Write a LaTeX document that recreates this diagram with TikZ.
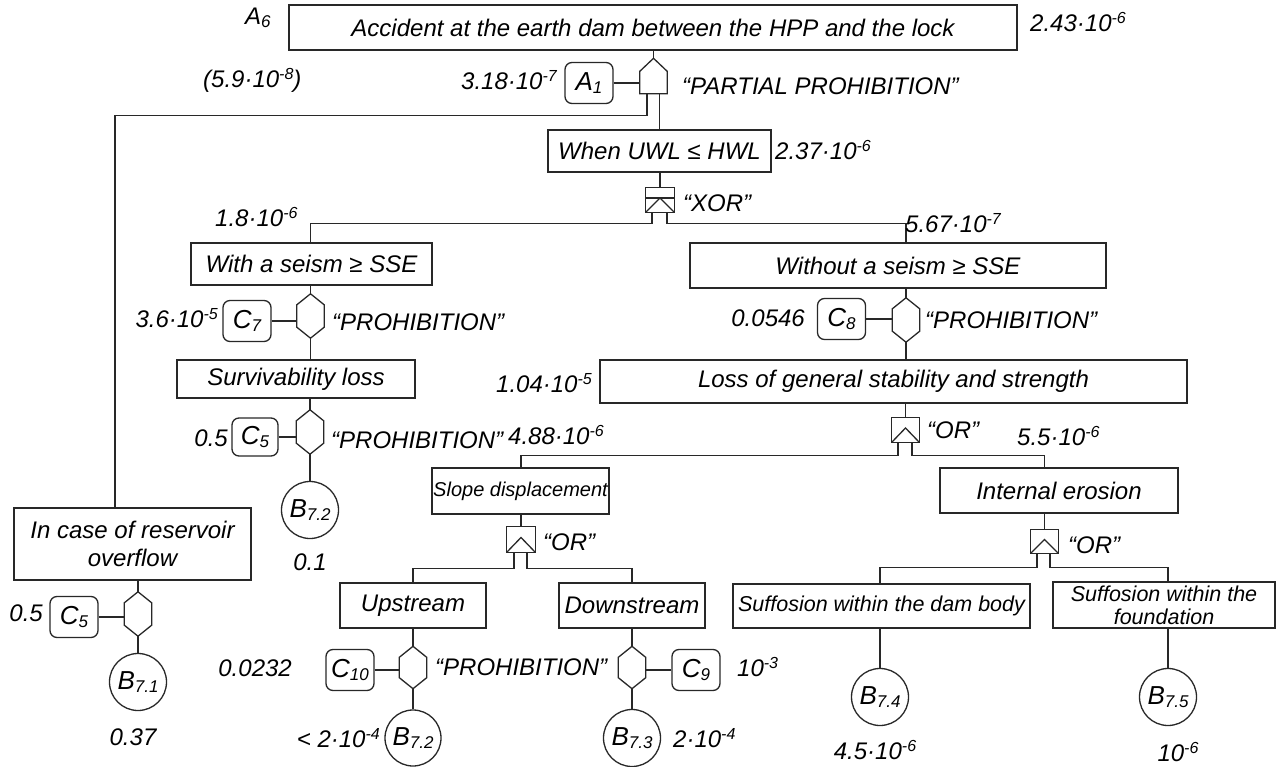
\documentclass[tikz,border=0pt]{standalone}
\usepackage{fontspec}
\setmainfont{Liberation Sans}
\usetikzlibrary{calc}
\definecolor{lc}{RGB}{40,40,40}

% raised exponent and lowered index in explicit sizes
\newcommand\dsup[1]{\raisebox{8pt}{\fontsize{16}{16}\selectfont #1}}
\newcommand\dsub[1]{\raisebox{-3pt}{\fontsize{17}{17}\selectfont #1}}
\newcommand\pe[2]{#1·10\dsup{#2}}

% gate outlines drawn on invisible rectangle nodes
\newcommand\hexgate[1]{\draw[ln] (#1.north) -- ($(#1.north east)+(0,-11)$) -- ($(#1.south east)+(0,11)$) -- (#1.south) -- ($(#1.south west)+(0,11)$) -- ($(#1.north west)+(0,-11)$) -- cycle;}
\newcommand\pentgate[1]{\draw[ln] (#1.north) -- ($(#1.north east)+(0,-13)$) -- (#1.south east) -- (#1.south west) -- ($(#1.north west)+(0,-13)$) -- cycle;}
\newcommand\orgate[1]{\draw[ln] (#1.north west) rectangle (#1.south east); \draw[ln] (#1.south west) -- ($(#1.center)+(0,2)$) -- (#1.south east);}
\newcommand\xorgate[1]{\orgate{#1}\draw[ln] ($(#1.west)+(0,2)$) -- ($(#1.east)+(0,2)$);}

\begin{document}
\begin{tikzpicture}[x=1pt,y=1pt,
  every node/.style={font=\fontsize{24}{28}\selectfont\itshape, inner sep=0pt},
  ln/.style={draw=lc, line width=1.3pt},
  box/.style={ln, rectangle, align=center},
  small/.style={font=\fontsize{20}{24}\selectfont\itshape},
  mid/.style={font=\fontsize{21.5}{23}\selectfont\itshape},
  cond/.style={ln, rectangle, rounded corners=7pt, minimum width=48pt, minimum height=41pt, font=\fontsize{26}{28}\selectfont\itshape},
  leaf/.style={ln, circle, minimum size=57pt, font=\fontsize{26}{28}\selectfont\itshape},
  gate/.style={rectangle, draw=none, minimum width=27pt}
]
\useasboundingbox (0,0) rectangle (1282,-767);

% event boxes
\node[box, minimum width=728pt, minimum height=45pt] (top) at (653,-27.5) {Accident at the earth dam between the HPP and the lock};
\node[box, minimum width=223pt, minimum height=42pt] (uwl) at (659.5,-151) {When UWL ≤ HWL};
\node[box, minimum width=241pt, minimum height=42pt] (seism) at (311.5,-264) {With a seism ≥ SSE};
\node[box, minimum width=416pt, minimum height=45pt] (noseism) at (898,-265.5) {Without a seism ≥ SSE};
\node[box, minimum width=238pt, minimum height=38pt] (surv) at (296,-379) {Survivability loss};
\node[box, minimum width=587pt, minimum height=43pt] (loss) at (893.5,-381.5) {Loss of general stability and strength};
\node[box, small, minimum width=177pt, minimum height=46pt] (slope) at (520.5,-491) {Slope displacement};
\node[box, minimum width=238pt, minimum height=45pt] (inter) at (1059,-490.5) {Internal erosion};
\node[box, minimum width=237pt, minimum height=72pt] (overflow) at (132.5,-544) {In case of reservoir\\overflow};
\node[box, minimum width=146pt, minimum height=45pt] (up) at (413,-605.5) {Upstream};
\node[box, minimum width=146pt, minimum height=45pt] (down) at (632,-605.5) {Downstream};
\node[box, mid, minimum width=297pt, minimum height=44pt] (sdb) at (881.5,-606) {Suffosion within the dam body};
\node[box, mid, minimum width=222pt, minimum height=46pt] (sfd) at (1164,-605) {Suffosion within the\\foundation};

% gates
\node[gate, minimum height=35pt] (g1) at (653.5,-76) {};
\node[gate, minimum width=28pt, minimum height=24pt] (xor) at (660,-200) {};
\node[gate, minimum height=44pt] (h7) at (310.5,-316) {};
\node[gate, minimum height=44pt] (h5) at (310,-432) {};
\node[gate, minimum height=44pt] (h8) at (906,-320) {};
\node[gate, minimum height=44pt] (hov) at (138,-614) {};
\node[gate, minimum height=42pt] (hup) at (413,-667.5) {};
\node[gate, minimum height=42pt] (hdn) at (632,-667.5) {};
\node[gate, minimum height=24pt] (or1) at (905.5,-430) {};
\node[gate, minimum width=28pt, minimum height=25pt] (or2) at (521,-539.5) {};
\node[gate, minimum height=23pt] (or3) at (1044.5,-541.5) {};

\pentgate{g1}
\xorgate{xor}
\hexgate{h7}\hexgate{h5}\hexgate{h8}\hexgate{hov}\hexgate{hup}\hexgate{hdn}
\orgate{or1}\orgate{or2}\orgate{or3}

% conditions
\node[cond] (A1) at (589,-83) {A\dsub{1}};
\node[cond] (C7) at (247,-321) {C\dsub{7}};
\node[cond, minimum width=46pt, minimum height=38pt] (C5a) at (255,-437) {C\dsub{5}};
\node[cond] (C8) at (841.5,-319) {C\dsub{8}};
\node[cond] (C5b) at (74,-617) {C\dsub{5}};
\node[cond] (C10) at (350,-670) {C\dsub{10}};
\node[cond] (C9) at (696,-670) {C\dsub{9}};

% basic events
\node[leaf] (B71) at (138,-682) {B\dsub{7.1}};
\node[leaf] (B72a) at (310,-510) {B\dsub{7.2}};
\node[leaf, minimum size=56pt] (B72b) at (413,-738) {B\dsub{7.2}};
\node[leaf] (B73) at (632,-738) {B\dsub{7.3}};
\node[leaf] (B74) at (880,-697) {B\dsub{7.4}};
\node[leaf] (B75) at (1168,-697) {B\dsub{7.5}};

% gate output points
\coordinate (g1l) at ($(g1.south)+(-6.5,0)$);
\coordinate (g1r) at ($(g1.south)+(6,0)$);
\coordinate (ovin) at ($(overflow.north)+(-17.5,0)$);
\coordinate (xl) at ($(xor.south)+(-8,0)$);
\coordinate (xr) at ($(xor.south)+(7,0)$);
\coordinate (o1l) at ($(or1.south)+(-7.5,0)$);
\coordinate (o1r) at ($(or1.south)+(6.5,0)$);
\coordinate (o2l) at ($(or2.south)+(-7,0)$);
\coordinate (o2r) at ($(or2.south)+(6,0)$);
\coordinate (o3l) at ($(or3.south)+(-7.5,0)$);
\coordinate (o3r) at ($(or3.south)+(5.5,0)$);

% connectors
\draw[ln] (g1.north) -- (g1.north |- top.south);
\draw[ln] (A1.east) -- (A1.east -| g1.west);
\draw[ln] (g1l) -- ++(0,-22) -| (ovin);
\draw[ln] (g1r) -- (g1r |- uwl.north);
\draw[ln] (xor.north) -- (xor.north |- uwl.south);
\draw[ln] (xl) -- ++(0,-11) -| (h7.north |- seism.north);
\draw[ln] (xr) -- ++(0,-11) -| (h8.north |- noseism.north);
\draw[ln] (h7.north) -- (h7.north |- seism.south);
\draw[ln] (C7.east) -- (C7.east -| h7.west);
\draw[ln] (h7.south) -- (h7.south |- surv.north);
\draw[ln] (h5.north) -- (h5.north |- surv.south);
\draw[ln] (C5a.east) -- (C5a.east -| h5.west);
\draw[ln] (h5.south) -- (B72a.north);
\draw[ln] (h8.north) -- (h8.north |- noseism.south);
\draw[ln] (C8.east) -- (C8.east -| h8.west);
\draw[ln] (h8.south) -- (h8.south |- loss.north);
\draw[ln] (or1.north) -- (or1.north |- loss.south);
\draw[ln] (o1l) -- ++(0,-13) -| (or2.north |- slope.north);
\draw[ln] (o1r) -- ++(0,-13) -| (or3.north |- inter.north);
\draw[ln] (or2.north) -- (or2.north |- slope.south);
\draw[ln] (o2l) -- ++(0,-16) -| (hup.north |- up.north);
\draw[ln] (o2r) -- ++(0,-16) -| (hdn.north |- down.north);
\draw[ln] (hup.north) -- (hup.north |- up.south);
\draw[ln] (C10.east) -- (C10.east -| hup.west);
\draw[ln] (hup.south) -- (B72b.north);
\draw[ln] (hdn.north) -- (hdn.north |- down.south);
\draw[ln] (C9.west) -- (C9.west -| hdn.east);
\draw[ln] (hdn.south) -- (B73.north);
\draw[ln] (or3.north) -- (or3.north |- inter.south);
\draw[ln] (o3l) -- ++(0,-14) -| (B74.north |- sdb.north);
\draw[ln] (o3r) -- ++(0,-14) -| (B75.north |- sfd.north);
\draw[ln] (B74.north) -- (B74.north |- sdb.south);
\draw[ln] (B75.north) -- (B75.north |- sfd.south);
\draw[ln] (hov.north) -- (hov.north |- overflow.south);
\draw[ln] (C5b.east) -- (C5b.east -| hov.west);
\draw[ln] (hov.south) -- (B71.north);

% probabilities and gate labels
\node[anchor=west] (tA6) at (245,-18) {A\dsub{6}};
\node[anchor=west] (p1) at (1030,-22) {\pe{2.43}{-6}};
\node[anchor=west] (p2) at (203,-80) {(\pe{5.9}{-8})};
\node[anchor=east] (p3) at (557,-80) {\pe{3.18}{-7}};
\node[anchor=west] (t1) at (682,-86) {“PARTIAL PROHIBITION”};
\node[anchor=west] (p4) at (775,-150) {\pe{2.37}{-6}};
\node[anchor=west] (t2) at (683,-203) {“XOR”};
\node[anchor=west] (p5) at (215,-217) {\pe{1.8}{-6}};
\node[anchor=west] (p6) at (905,-223) {\pe{5.67}{-7}};
\node[anchor=east] (p7) at (218,-318) {\pe{3.6}{-5}};
\node[anchor=west] (t3) at (332,-322) {“PROHIBITION”};
\node[anchor=east] (p8) at (805,-318) {0.0546};
\node[anchor=west] (t4) at (925,-320) {“PROHIBITION”};
\node[anchor=east] (p9) at (592,-383) {\pe{1.04}{-5}};
\node[anchor=east] (p10) at (228,-438) {0.5};
\node[anchor=west] (t5) at (331,-440) {“PROHIBITION”};
\node[anchor=west] (p11) at (508,-435) {\pe{4.88}{-6}};
\node[anchor=west] (t6) at (927,-430) {“OR”};
\node[anchor=west] (p12) at (1017,-436) {\pe{5.5}{-6}};
\node[anchor=west] (t7) at (543,-542) {“OR”};
\node[anchor=west] (t8) at (1068,-545) {“OR”};
\node (p13) at (310,-562) {0.1};
\node[anchor=east] (p14) at (43,-613) {0.5};
\node[anchor=east] (p15) at (292,-668) {0.0232};
\node[anchor=west] (t9) at (435,-667) {“PROHIBITION”};
\node[anchor=west] (p16) at (737,-667) {10\dsup{-3}};
\node[anchor=east] (p17) at (380,-738) {< \pe{2}{-4}};
\node[anchor=west] (p18) at (673,-738) {\pe{2}{-4}};
\node (p19) at (133,-737) {0.37};
\node (p20) at (875,-750) {\pe{4.5}{-6}};
\node (p21) at (1178,-752) {10\dsup{-6}};
\end{tikzpicture}
\end{document}
